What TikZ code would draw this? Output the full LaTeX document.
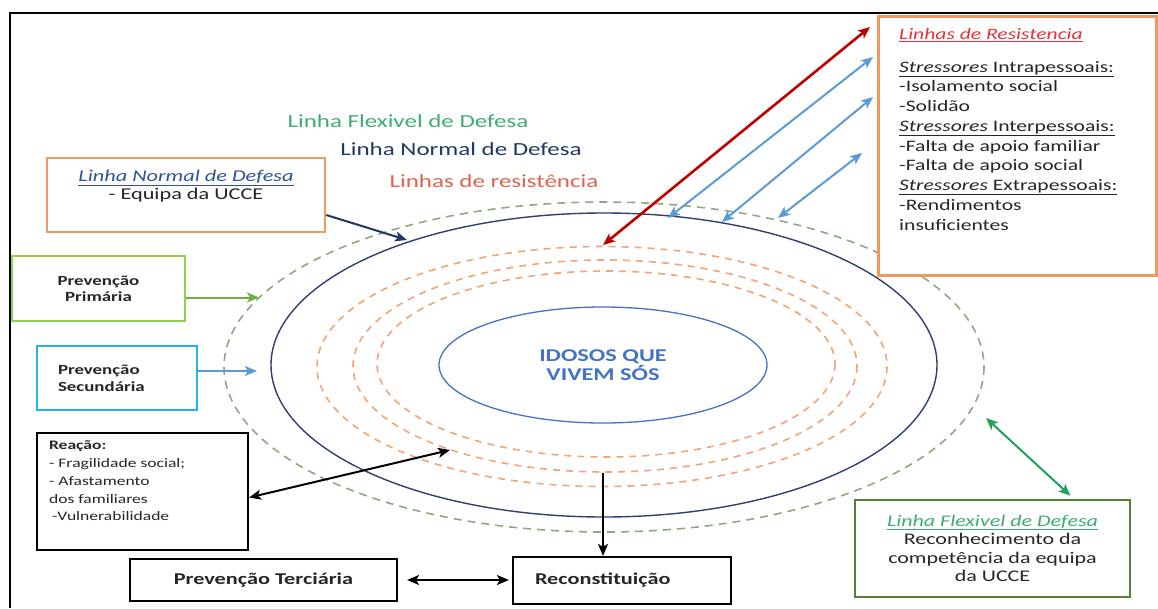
\documentclass[tikz,border=0pt]{standalone}
\usepackage{fontspec}
\setmainfont[FakeStretch=1.35]{Carlito}
\usepackage{tikz}
\usetikzlibrary{
  arrows.meta,
  positioning
}
\definecolor{nmnavy}{HTML}{1F3864}
\definecolor{ringnavy}{HTML}{2E3F70}
\definecolor{nmblue}{HTML}{2F5597}
\definecolor{boxorange}{HTML}{EE9A5E}
\definecolor{primgreen}{HTML}{92D050}
\definecolor{primarrow}{HTML}{70AD47}
\definecolor{seccyan}{HTML}{1FB4EC}
\definecolor{stressblue}{HTML}{5B9BD5}
\definecolor{flexgreen}{HTML}{538135}
\definecolor{flexarrow}{HTML}{1EA35A}
\definecolor{resred}{HTML}{C00000}
\definecolor{dashgreen}{HTML}{8EA881}
\definecolor{dashorange}{HTML}{F2A474}
\definecolor{coreblue}{HTML}{4472C4}
\definecolor{labgreen}{HTML}{3DAE70}
\definecolor{labred}{HTML}{E0624A}
\definecolor{titlered}{HTML}{E2343A}
\definecolor{bodytext}{HTML}{262626}

\begin{document}
\begin{tikzpicture}[
  x=1pt, y=-1pt,
  orangebox/.style={
    draw=boxorange, line width=2.5pt, fill=white, inner sep=0pt
  },
  blackbox/.style={
    draw=black, line width=2.2pt, fill=white, inner sep=0pt,
    text=bodytext
  },
  ringlabel/.style={font=\fontsize{18.5}{22}\selectfont},
  oneway/.style={line width=2pt, -{Stealth[length=12pt, width=10pt, inset=3pt]}},
  twoway/.style={line width=2pt,
    {Stealth[length=12pt, width=10pt, inset=3pt]}-{Stealth[length=12pt, width=10pt, inset=3pt]}}
]
\useasboundingbox (0,0) rectangle (1158,608);

% frame
\draw[line width=2pt] (10,608) -- (10,13) -- (1158,13);

% RINGS
\draw[dashgreen, line width=1.6pt, dash pattern=on 8pt off 6pt]
  (604,367) ellipse [x radius=380, y radius=165];
\draw[ringnavy, line width=1.4pt] (604,365) ellipse [x radius=333, y radius=152];
\draw[dashorange, line width=1.6pt, dash pattern=on 7pt off 6pt]
  (602,366.5) ellipse [x radius=285, y radius=120];
\draw[dashorange, line width=1.6pt, dash pattern=on 7pt off 6pt]
  (605,366) ellipse [x radius=252, y radius=106];
\draw[dashorange, line width=1.6pt, dash pattern=on 7pt off 6pt]
  (606,364) ellipse [x radius=229, y radius=93];
\draw[coreblue, line width=1.3pt] (603,365) ellipse [x radius=164, y radius=58];

\node[font=\fontsize{18}{19}\selectfont\bfseries, text=coreblue, align=center]
  (core) at (603,365) {IDOSOS QUE\\VIVEM SÓS};

% ring names
\node[ringlabel, text=labgreen] (flexlabel) at (408,121) {Linha Flexivel de Defesa};
\node[ringlabel, text=nmnavy] (normallabel) at (461,149) {Linha Normal de Defesa};
\node[ringlabel, text=labred] (resistlabel) at (494,181) {Linhas de resistência};

% LINHAS DE RESISTENCIA
\node[orangebox, minimum width=278, minimum height=259, anchor=north west]
  (resist) at (877,15) {};
\node[align=left, inner sep=0pt, text=bodytext,
  font=\fontsize{16}{19.75}\selectfont,
  below right=13pt and 22pt of resist.north west] (resisttxt)
  {\textcolor{titlered}{\underline{\textit{Linhas de Resistencia}}}\\[13pt]
   \underline{\textit{Stressores} Intrapessoais:}\\
   -Isolamento social\\
   -Solidão\\
   \underline{\textit{Stressores} Interpessoais:}\\
   -Falta de apoio familiar\\
   -Falta de apoio social\\
   \underline{\textit{Stressores} Extrapessoais:}\\
   -Rendimentos\\
   insuficientes};

% LINHA NORMAL DE DEFESA
\node[orangebox, minimum width=278, minimum height=74] (normalbox) at (186,195) {};
\node[align=center, inner sep=0pt, text=bodytext,
  font=\fontsize{16.5}{18}\selectfont,
  below=13pt of normalbox.north] (normaltxt)
  {\textcolor{nmblue}{\underline{\textit{Linha Normal de Defesa}}}\\- Equipa da UCCE};

% PREVENCAO
\node[draw=primgreen, line width=2.5pt, fill=white, inner sep=0pt,
  minimum width=173, minimum height=65, align=center,
  font=\fontsize{14}{16}\selectfont\bfseries, text=bodytext]
  (primaria) at (98.5,288.5) {Prevenção\\Primária};
\node[draw=seccyan, line width=2.5pt, fill=white, inner ysep=0pt, inner xsep=21pt,
  minimum width=160, minimum height=64, text width=118, align=left,
  font=\fontsize{14}{17}\selectfont\bfseries, text=bodytext]
  (secundaria) at (117,378) {Prevenção\\Secundária};

% REACAO
\node[blackbox, minimum width=211, minimum height=117] (reacao) at (142.5,491.5) {};
\node[align=left, inner sep=0pt, text=bodytext,
  font=\fontsize{13}{17.75}\selectfont,
  below right=9pt and 13pt of reacao.north west] (reacaotxt)
  {\textbf{Reação:}\\
   - Fragilidade social;\\
   - Afastamento\\
   dos familiares\\
   \hspace{3pt}-Vulnerabilidade};

\node[blackbox, minimum width=267, minimum height=42,
  font=\fontsize{16.5}{18}\selectfont\bfseries]
  (terciaria) at (263.5,580) {Prevenção Terciária};
\node[blackbox, minimum width=218, minimum height=47, inner xsep=22pt,
  text width=174, align=left, font=\fontsize{16.5}{18}\selectfont\bfseries]
  (reconst) at (622,580.5) {Reconstituição};

% LINHA FLEXIVEL DE DEFESA
\node[draw=flexgreen, line width=2.5pt, fill=white, inner sep=0pt,
  minimum width=275, minimum height=97, align=center,
  font=\fontsize{16.3}{18.5}\selectfont, text=bodytext]
  (flexbox) at (992.5,548.5)
  {\textcolor{labgreen}{\underline{\textit{Linha Flexivel de Defesa}}}\\
   Reconhecimento da\\competência da equipa\\da UCCE};

% arrows
\coordinate (navyhit) at (407,240);
\coordinate (primhit) at (259,297.5);
\coordinate (sechit) at (257,371);
\coordinate (redhit) at (603,245);
\coordinate (bluehitA) at (668,218);
\coordinate (bluehitB) at (722,222);
\coordinate (bluehitC) at (778,218);
\coordinate (reachit) at (450,450);
\coordinate (reconhit) at (603,473);
\coordinate (flexhit) at (986,418);

\draw[oneway, nmnavy] ([shift={(0,20)}]normalbox.east) -- (navyhit);
\draw[oneway, primarrow] ([shift={(0,9)}]primaria.east) -- (primhit);
\draw[oneway, stressblue] ([shift={(0,-7)}]secundaria.east) -- (sechit);

\draw[twoway, resred, line width=2.6pt] (redhit) -- ([shift={(-7,12)}]resist.north west);
\draw[twoway, stressblue] (bluehitA) -- ([shift={(-4,42)}]resist.north west);
\draw[twoway, stressblue] (bluehitB) -- ([shift={(-4,82)}]resist.north west);
\draw[twoway, stressblue] (bluehitC) -- ([shift={(-15,138)}]resist.north west);

\draw[twoway, black] ([shift={(0,6)}]reacao.east) -- (reachit);
\draw[oneway, black] (reconhit) -- (reconhit |- reconst.north);
\draw[twoway, black, shorten <=9pt, shorten >=3pt]
  (terciaria.east) -- (terciaria.east -| reconst.west);

\draw[twoway, flexarrow] (flexhit) -- ([shift={(78,-3)}]flexbox.north);

\end{tikzpicture}
\end{document}
